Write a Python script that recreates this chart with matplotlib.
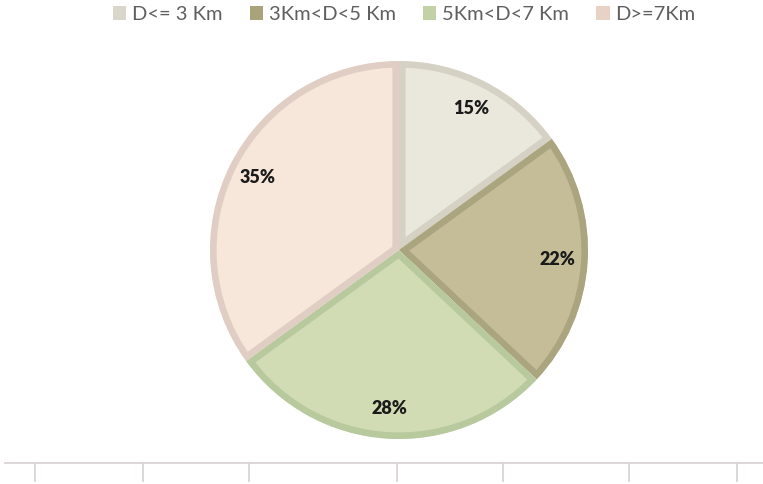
import matplotlib
matplotlib.use("Agg")
import matplotlib.pyplot as plt
from matplotlib.patches import Patch

# Distance bands and their share of trips
categories = ["D<= 3 Km", "3Km<D<5 Km", "5Km<D<7 Km", "D>=7Km"]
shares = [15, 22, 28, 35]

fill_colors = ["#EAE7DC", "#C4BD97", "#D1DCB5", "#F7E7DA"]
edge_colors = ["#D5D1C4", "#ABA57F", "#B8C99D", "#E0CDC3"]
legend_colors = ["#D9D6CB", "#A9A37C", "#C2D1A6", "#E8D2C6"]

W, H = 763, 484
fig = plt.figure(figsize=(W / 100, H / 100), dpi=100)

# Pie axes centred around (399, 250) px with radius ~189 px
cx, cy, r = 399, 250, 189
ax = fig.add_axes([(cx - r) / W, 1 - (cy + r) / H, 2 * r / W, 2 * r / H])
wedges, texts, autotexts = ax.pie(
    shares,
    startangle=90,
    counterclock=False,
    colors=fill_colors,
    autopct=lambda p: f"{p:.0f}%",
    pctdistance=0.84,
    wedgeprops=dict(linewidth=9.5),
    textprops=dict(fontsize=13, fontweight="heavy", color="#1a1a1a",
                   family=["Lato", "DejaVu Sans"]),
)
ax.set_xlim(-1, 1)
ax.set_ylim(-1, 1)
ax.set_aspect("equal")
ax.axis("off")
# Each wedge keeps its border inside its own outline
for w, ec in zip(wedges, edge_colors):
    w.set_edgecolor(ec)
    w.set_joinstyle("miter")
    w.set_clip_on(True)
    w.set_clip_path(w)

# Horizontal category axis at the bottom
tick_px = [35, 143, 249, 397, 503, 629, 737]
ax2 = fig.add_axes([0, 0, 1, 1], facecolor="none")
ax2.set_xlim(0, W)
ax2.set_ylim(H, 0)
ax2.axis("off")
line_y = 463
ax2.plot([5, W], [line_y, line_y], color="#DAD3D3", lw=1.3)
for x in tick_px:
    ax2.plot([x, x], [line_y, line_y + 18], color="#DAD3D3", lw=1.3)

# Legend along the top
handles = [Patch(facecolor=c, edgecolor="none") for c in legend_colors]
leg = fig.legend(
    handles, categories, loc="upper center", ncol=4,
    bbox_to_anchor=(0.53, 1.025), frameon=False,
    prop=dict(family=["Lato", "DejaVu Sans"], size=14.5),
    handlelength=0.65, handleheight=0.65, handletextpad=0.3,
    columnspacing=1.35,
)
for t in leg.get_texts():
    t.set_color("#5F5F5F")

fig.savefig("out.png", dpi=100)
